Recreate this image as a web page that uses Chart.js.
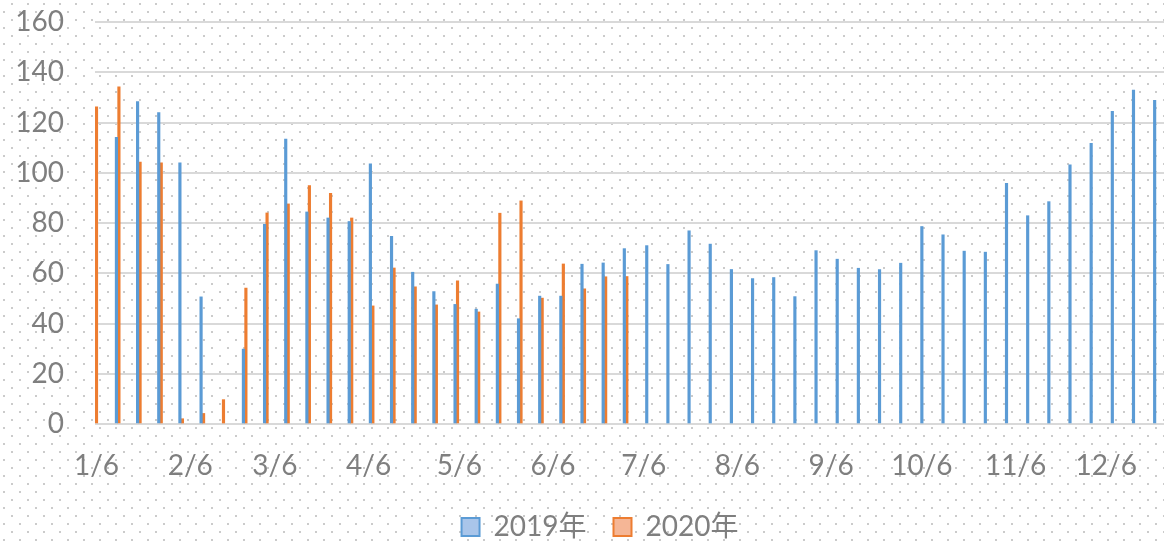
<!DOCTYPE html>
<html><head><meta charset="utf-8">
<script src="https://cdn.jsdelivr.net/npm/chart.js@4/dist/chart.umd.min.js"></script>
<style>
html,body{margin:0;padding:0;overflow:hidden;background:#fff;}
canvas{display:block;}
</style></head>
<body><canvas id="c" width="1216" height="551"></canvas>
<script>
// ---- data ----
const weeks = ['1/6','1/13','1/20','1/27','2/3','2/10','2/17','2/24','3/3','3/10','3/17','3/24','3/31',
  '4/7','4/14','4/21','4/28','5/5','5/12','5/19','5/26','6/2','6/9','6/16','6/23','6/30',
  '7/7','7/14','7/21','7/28','8/4','8/11','8/18','8/25','9/1','9/8','9/15','9/22','9/29',
  '10/6','10/13','10/20','10/27','11/3','11/10','11/17','11/24','12/1','12/8','12/15','12/22'];
const sales2019 = [null,114.1,128.3,123.9,103.9,50.6,null,29.8,79.5,113.4,84.4,82.0,80.6,
  103.6,74.7,60.4,52.7,47.6,45.7,55.7,41.9,50.9,50.9,63.6,64.1,69.8,
  71.0,63.5,76.9,71.6,61.5,57.9,58.3,50.7,69.0,65.6,62.0,61.5,64.0,
  78.6,75.3,68.8,68.4,95.8,82.9,88.5,103.2,111.7,124.4,132.9,128.8];
const sales2020 = [126.2,134.2,104.2,103.9,2.1,4.2,9.7,54.1,84.0,87.6,94.9,91.8,82.0,
  47.0,62.1,54.6,47.4,57.0,44.6,83.9,88.8,50.1,63.7,53.8,58.6,58.7];
const seriesNames = ['2019年','2020年'];
const tickLabels = ['1/6','2/6','3/6','4/6','5/6','6/6','7/6','8/6','9/6','10/6','11/6','12/6'];
const yTicks = [0,20,40,60,80,100,120,140,160];

// ---- helpers ----
const monthStart = [0,31,59,90,120,151,181,212,243,273,304,334];
function dayOf(md){ const [m,d] = md.split('/').map(Number); return monthStart[m-1] + d; }
const xMin = dayOf(weeks[0]) - 0.5;
const xMax = 365 + dayOf(tickLabels[0]);
const tickDays = tickLabels.map(dayOf);

function toPoints(vals){ return weeks.map((w,i)=>({x: dayOf(w), y: (vals[i] === undefined ? null : vals[i])})); }

const FONT = 'Lato, "Noto Sans CJK SC", sans-serif';
const TXT = '#7f7f7f';
const BLUE = '#5b9bd5', ORANGE = '#ed7d31';
const legendFill = ['#a9c5ea', '#f5b696'];

const dots = {
  id: 'dots',
  beforeDraw(chart){
    const ctx = chart.ctx;
    ctx.save();
    ctx.fillStyle = '#cbcbcb';
    for (let y = 0; y < chart.height; y += 16){
      for (let x = 0; x < chart.width; x += 16){
        ctx.fillRect(x+11, y+3, 2, 2);
        ctx.fillRect(x+3, y+11, 2, 2);
      }
    }
    ctx.restore();
  }
};

new Chart(document.getElementById('c'), {
  type: 'bar',
  data: {
    datasets: [
      { label: seriesNames[0], data: toPoints(sales2019), backgroundColor: BLUE, borderWidth: 0 },
      { label: seriesNames[1], data: toPoints(sales2020), backgroundColor: ORANGE, borderWidth: 0 }
    ]
  },
  options: {
    responsive: false,
    animation: false,
    devicePixelRatio: 1,
    layout: { padding: { top: 22, right: 16, left: 0, bottom: 0 } },
    datasets: { bar: { barThickness: 2.5, skipNull: true, grouped: true } },
    scales: {
      x: {
        type: 'linear',
        offset: false,
        min: xMin, max: xMax,
        grid: { display: false, drawTicks: false },
        border: { display: false },
        afterBuildTicks: s => { s.ticks = tickDays.map(v => ({ value: v })); },
        afterFit: s => { s.height = 62; s.paddingLeft = 0; s.paddingRight = 0; },
        ticks: {
          autoSkip: false, maxRotation: 0, minRotation: 0, padding: 25,
          color: TXT, font: { family: FONT, size: 28 },
          callback: (v, i) => tickLabels[i]
        }
      },
      y: {
        min: 0, max: 160,
        afterBuildTicks: s => { s.ticks = yTicks.map(v => ({ value: v })); },
        afterFit: s => { s.width = 95; s.paddingTop = 0; s.paddingBottom = 0; },
        grid: { color: '#d9d9d9', lineWidth: 2, drawTicks: false },
        border: { display: false },
        ticks: { padding: 31, color: TXT, font: { family: FONT, size: 28 } }
      }
    },
    plugins: {
      tooltip: { enabled: false },
      legend: {
        position: 'bottom',
        labels: {
          boxWidth: 18, boxHeight: 18, padding: 27,
          color: TXT, font: { family: FONT, size: 28 },
          generateLabels: chart => chart.data.datasets.map((ds, i) => ({
            text: ds.label, fillStyle: legendFill[i], strokeStyle: ds.backgroundColor,
            lineWidth: 2, fontColor: TXT, datasetIndex: i, hidden: false
          }))
        }
      }
    }
  },
  plugins: [dots]
});
</script>
</body></html>
